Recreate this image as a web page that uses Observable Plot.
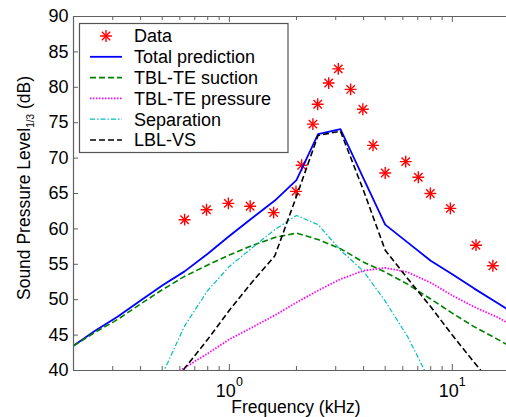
<!DOCTYPE html>
<html><head><meta charset="utf-8">
<script src="https://cdn.jsdelivr.net/npm/d3@7"></script>
<script src="https://cdn.jsdelivr.net/npm/@observablehq/plot@0.6"></script>
<style>
body{margin:0;background:#fff;overflow:hidden}
#chart{width:506px;height:417px;overflow:hidden}
</style></head><body><div id="chart"></div>
<script>
// ---- data ----
const bandFreq = [0.2,0.25,0.315,0.4,0.5,0.63,0.8,1,1.25,1.6,2,2.5,3.15,4,5,6.3,8,10,12.5,16,20];
const totalPrediction = [43.5,45.6,47.6,49.9,52.0,54.0,56.5,59.0,61.4,64.0,66.9,73.4,74.1,67.1,60.6,58.1,55.5,53.6,51.6,49.5,47.6];
const tblteSuction = [43.5,45.4,47.2,49.4,51.4,53.3,54.9,56.3,57.6,58.8,59.4,58.5,57.2,55.3,53.9,52.2,50.1,48.1,46.2,44.4,42.6];
const tbltePressure = [null,null,null,null,38.3,40.4,42.4,44.4,46.0,47.8,49.6,51.3,52.9,54.1,54.5,53.9,52.4,50.6,49.0,47.5,45.8];
const separation = [null,null,null,null,39.4,46.3,51.3,54.7,57.2,59.9,61.9,60.6,57.0,54.0,49.8,44.8,38.3,null,null,null,null];
const lblVs = [null,null,null,null,36.0,40.3,44.4,48.5,52.3,56.2,64.6,73.2,73.8,65.4,57.0,53.0,49.0,45.0,41.2,37.1,null];
const dataFreq = [0.63,0.79,0.99,1.24,1.58,1.99,2.11,2.37,2.49,2.79,3.08,3.5,3.97,4.41,5.0,6.18,7.04,7.97,9.8,12.77,15.2];
const dataSpl = [61.3,62.7,63.6,63.2,62.3,65.3,69.0,74.8,77.6,80.6,82.6,79.7,76.9,71.8,67.9,69.5,67.3,65.0,62.9,57.7,54.8];
const yTicks = [40,45,50,55,60,65,70,75,80,85,90];
const xMajorTicks = [1,10];
const xMinorTicks = [0.3,0.4,0.5,0.6,0.7,0.8,0.9,2,3,4,5,6,7,8,9];
const xDomain = [0.2,17.5];
const yDomain = [40,90];
const seriesNames = ["Total prediction","TBL-TE suction","TBL-TE pressure","Separation","LBL-VS"];
const seriesValues = [totalPrediction,tblteSuction,tbltePressure,separation,lblVs];

// ---- styles ----
const seriesStyles = [
  {stroke:"#0000ff", width:1.8, dash:null},
  {stroke:"#008000", width:1.6, dash:"6,3"},
  {stroke:"#ff00ff", width:1.8, dash:"1.5,1.5"},
  {stroke:"#00bfbf", width:1.2, dash:"5,2,1.5,2"},
  {stroke:"#000000", width:1.6, dash:"6,3"}
];
const W=506,H=417,ML=73,MR=0,MT=16,MB=47;
const plotW=W-ML-MR, plotH=H-MT-MB;
const axisColor="#606060";
const FONT="'Liberation Sans', Arial, Helvetica, sans-serif";
const STAR_R=3.9, STAR_W=1.4;

const points = dataFreq.map((f,i)=>({f, v:dataSpl[i]}));
const lineMarks = seriesValues.map((vals,k)=>{
  const s = seriesStyles[k];
  return Plot.line(bandFreq.map((f,i)=>({f, v:vals[i]})), {
    x:"f", y:"v", stroke:s.stroke, strokeWidth:s.width,
    strokeDasharray:s.dash, strokeLinecap: s.dash ? "butt" : "round",
    clip:true
  });
});

const chart = Plot.plot({
  width:W, height:H, marginLeft:ML, marginRight:MR, marginTop:MT, marginBottom:MB,
  style:{fontFamily:FONT, fontSize:"18px", background:"#fff", color:"#000"},
  x:{type:"log", domain:xDomain},
  y:{domain:yDomain},
  marks:[
    Plot.dot(points,{x:"f",y:"v",symbol:"plus",r:STAR_R,stroke:"#ff0000",strokeWidth:STAR_W}),
    Plot.dot(points,{x:"f",y:"v",symbol:"times",r:STAR_R,stroke:"#ff0000",strokeWidth:STAR_W}),
    ...lineMarks,
    Plot.ruleY([yDomain[0], yDomain[1]],{stroke:axisColor, strokeWidth:1.2}),
    Plot.ruleX([xDomain[0]],{stroke:axisColor, strokeWidth:1.2}),
    Plot.tickX(xMinorTicks,{x:d=>d, insetTop:plotH-4, stroke:axisColor}),
    Plot.tickX(xMajorTicks,{x:d=>d, insetTop:plotH-6, stroke:axisColor}),
    Plot.tickX(xMinorTicks,{x:d=>d, insetBottom:plotH-4, stroke:axisColor}),
    Plot.tickX(xMajorTicks,{x:d=>d, insetBottom:plotH-6, stroke:axisColor}),
    Plot.tickY(yTicks,{y:d=>d, insetRight:plotW-5, stroke:axisColor}),
    Plot.axisY(yTicks,{tickSize:0, tickPadding:5, label:null, tickFormat:d=>String(d)}),
    Plot.axisX(xMajorTicks,{tickSize:0, tickPadding:14, label:null, tickFormat:d=>String(Math.round(Math.log10(d)))})
  ]
});
document.getElementById("chart").appendChild(chart);
const svg = d3.select(chart);

// superscript exponents on x tick labels
svg.selectAll('g[aria-label="x-axis tick label"] text').each(function(){
  const e = this.textContent;
  this.textContent = "10";
  d3.select(this).append("tspan").attr("font-size",12.5).attr("dy",-11).text(e);
});

// axis titles
svg.append("text").attr("x",296).attr("y",413).attr("text-anchor","middle")
  .attr("font-size",17.5).attr("fill","#000").text("Frequency (kHz)");
const yl = svg.append("text").attr("transform","translate(30,188) rotate(-90)")
  .attr("text-anchor","middle").attr("font-size",17.5).attr("fill","#000");
yl.append("tspan").text("Sound Pressure Level");
yl.append("tspan").attr("font-size",10).attr("dy",4).text("1/3");
yl.append("tspan").attr("dy",-4).text(" (dB)");

// legend
const lg = svg.append("g");
lg.append("rect").attr("x",79.5).attr("y",23.5).attr("width",208.5).attr("height",129)
  .attr("fill","#fff").attr("stroke","#555").attr("stroke-width",1.2);
const legendNames = ["Data", ...seriesNames];
legendNames.forEach((name,i)=>{
  const cy = 36 + i*20.8;
  if (i===0) {
    const star = lg.append("g").attr("transform",`translate(106,${cy})`)
      .attr("stroke","#ff0000").attr("stroke-width",STAR_W).attr("fill","none");
    star.append("path").attr("d",d3.symbol(d3.symbolPlus, Math.PI*STAR_R*STAR_R)());
    star.append("path").attr("d",d3.symbol(d3.symbolTimes, Math.PI*STAR_R*STAR_R)());
  } else {
    const s = seriesStyles[i-1];
    lg.append("line").attr("x1",90).attr("x2",122).attr("y1",cy).attr("y2",cy)
      .attr("stroke",s.stroke).attr("stroke-width",s.width)
      .attr("stroke-dasharray",s.dash).attr("stroke-linecap","butt");
  }
  lg.append("text").attr("x",134).attr("y",cy).attr("dy","0.36em")
    .attr("text-anchor","start").attr("font-size",18).attr("fill","#000").text(name);
});
</script></body></html>
